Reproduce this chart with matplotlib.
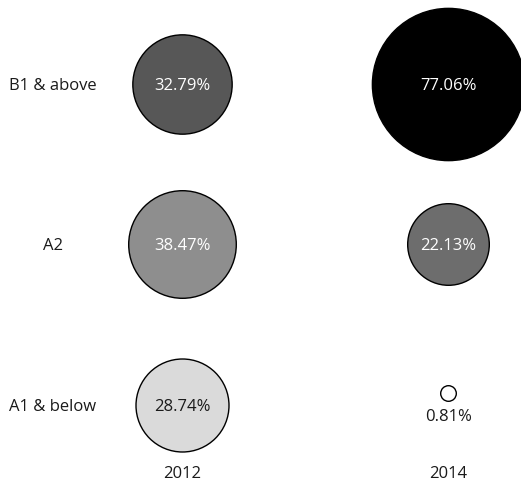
import matplotlib
matplotlib.use("Agg")
import matplotlib.pyplot as plt
import matplotlib.transforms as mtransforms
import numpy as np

plt.rcParams['font.family'] = ['Open Sans', 'DejaVu Sans']

years = ["2012", "2014"]
levels = ["A1 & below", "A2", "B1 & above"]  # bottom to top
values_2012 = [28.74, 38.47, 32.79]
values_2014 = [0.81, 22.13, 77.06]
colors_2012 = ["#dadada", "#8e8e8e", "#575757"]
colors_2014 = ["#ffffff", "#6d6d6d", "#000000"]
text_colors_2012 = ["#1a1a1a", "#ffffff", "#ffffff"]
text_colors_2014 = ["#1a1a1a", "#ffffff", "#ffffff"]

fig = plt.figure(figsize=(5.21, 4.83), dpi=100)
ax = fig.add_axes([0, 0, 1, 1])
ax.set_xlim(-0.684, 1.274)
ax.set_ylim(-0.486, 2.523)
ax.axis("off")

scale = 156.0  # marker area (pt^2) per percent
fs = 12

series = [(values_2012, colors_2012, text_colors_2012),
          (values_2014, colors_2014, text_colors_2014)]

for xi, (vals, cols, tcols) in enumerate(series):
    for yi, (v, c, tc) in enumerate(zip(vals, cols, tcols)):
        small = v < 5
        if small:
            off = mtransforms.ScaledTranslation(0, 12 / 100, fig.dpi_scale_trans)
            ax.scatter([xi], [yi], s=v * scale, c=[c], edgecolors="black",
                       linewidths=1.0, transform=ax.transData + off, zorder=2)
            off2 = mtransforms.ScaledTranslation(0, -10 / 100, fig.dpi_scale_trans)
            ax.text(xi, yi, f"{v:.2f}%", ha="center", va="center_baseline", fontsize=fs,
                    color=tc, transform=ax.transData + off2, zorder=3)
        else:
            ax.scatter([xi], [yi], s=v * scale, c=[c], edgecolors="black",
                       linewidths=1.0, zorder=2)
            ax.text(xi, yi, f"{v:.2f}%", ha="center", va="center_baseline", fontsize=fs,
                    color=tc, zorder=3)

for yi, lab in enumerate(levels):
    ax.text(-0.485, yi, lab, ha="center", va="center_baseline", fontsize=fs, color="#1a1a1a")

for xi, yr in enumerate(years):
    ax.text(xi, -0.417, yr, ha="center", va="center_baseline", fontsize=fs, color="#1a1a1a")

fig.savefig("out.png", dpi=100)
